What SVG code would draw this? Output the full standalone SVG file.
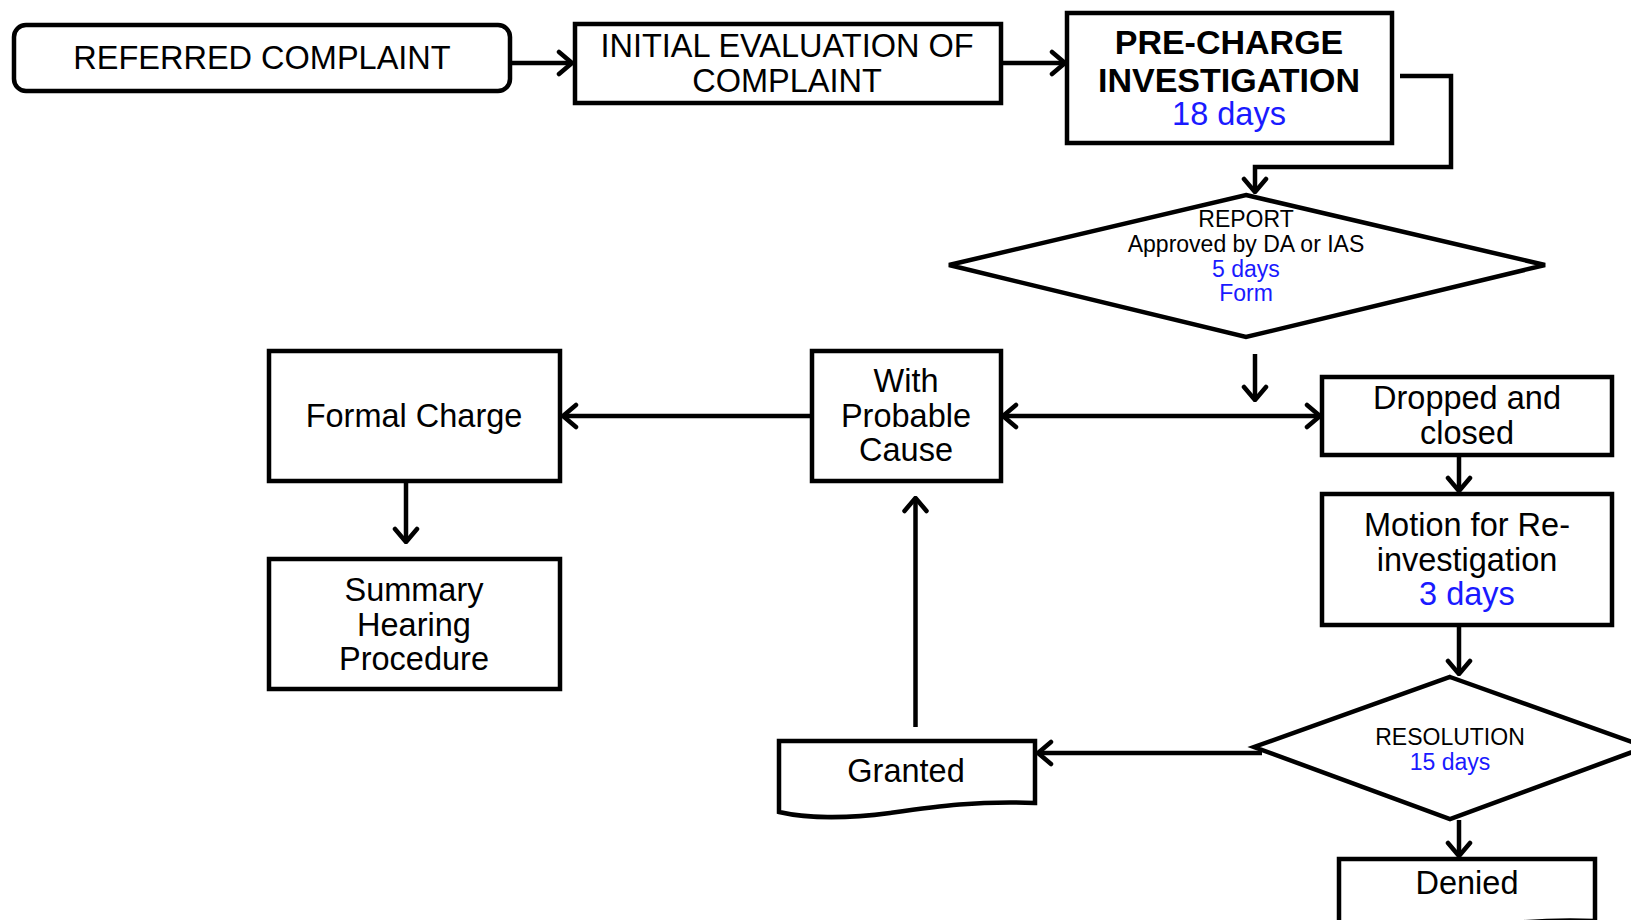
<svg xmlns="http://www.w3.org/2000/svg" width="1631" height="920" viewBox="0 0 1631 920">
<style>
.box{fill:#fff;stroke:#000;stroke-width:4.5}
.t{font-family:"Liberation Sans",Arial,sans-serif;font-size:32.5px;fill:#000;text-anchor:middle}
.b{font-weight:bold;font-size:34px}
.s{font-size:23px}
.blue{fill:#1a1aff}
.ln{fill:none;stroke:#000;stroke-width:4.5}
</style>
<defs>
<marker id="ah" viewBox="0 0 18 28" refX="16" refY="14" markerWidth="18" markerHeight="28" markerUnits="userSpaceOnUse" orient="auto-start-reverse">
<path d="M3,3 L16,14 L3,25" fill="none" stroke="#000" stroke-width="4.5" stroke-linecap="round" stroke-linejoin="round"/>
</marker>
</defs>
<rect width="1631" height="920" fill="#fff"/>
<g id="connectors">
<line class="ln" x1="510" y1="63" x2="572" y2="63" marker-end="url(#ah)"/>
<line class="ln" x1="1001" y1="63" x2="1065" y2="63" marker-end="url(#ah)"/>
<path class="ln" d="M1400,76 H1451 V167 H1255 V192" marker-end="url(#ah)"/>
<line class="ln" x1="1255" y1="354" x2="1255" y2="400" marker-end="url(#ah)"/>
<line class="ln" x1="1003" y1="416" x2="1320" y2="416" marker-start="url(#ah)" marker-end="url(#ah)"/>
<line class="ln" x1="812" y1="416" x2="563" y2="416" marker-end="url(#ah)"/>
<line class="ln" x1="406" y1="481" x2="406" y2="542" marker-end="url(#ah)"/>
<line class="ln" x1="1459" y1="455" x2="1459" y2="491" marker-end="url(#ah)"/>
<line class="ln" x1="1459" y1="625" x2="1459" y2="674" marker-end="url(#ah)"/>
<line class="ln" x1="1262" y1="753" x2="1038" y2="753" marker-end="url(#ah)"/>
<line class="ln" x1="915.5" y1="727" x2="915.5" y2="498" marker-end="url(#ah)"/>
<line class="ln" x1="1459" y1="820" x2="1459" y2="856" marker-end="url(#ah)"/>
</g>
<g id="referred">
<rect class="box" x="14" y="25" width="496" height="66" rx="12"/>
<text class="t" x="262" y="69">REFERRED COMPLAINT</text>
</g>
<g id="initial">
<rect class="box" x="575" y="24" width="426" height="79"/>
<text class="t" x="787" y="57">INITIAL EVALUATION OF</text>
<text class="t" x="787" y="92">COMPLAINT</text>
</g>
<g id="precharge">
<rect class="box" x="1067" y="13" width="325" height="130"/>
<text class="t b" x="1229" y="54">PRE-CHARGE</text>
<text class="t b" x="1229" y="91.5">INVESTIGATION</text>
<text class="t blue" x="1229" y="125">18 days</text>
</g>
<g id="report">
<polygon class="box" points="1246,195 1545,265 1246,337 949,265"/>
<text class="t s" x="1246" y="227">REPORT</text>
<text class="t s" x="1246" y="251.5">Approved by DA or IAS</text>
<text class="t s blue" x="1246" y="276.5">5 days</text>
<text class="t s blue" x="1246" y="301">Form</text>
</g>
<g id="dropped">
<rect class="box" x="1322" y="377" width="290" height="78"/>
<text class="t" x="1467" y="409">Dropped and</text>
<text class="t" x="1467" y="443.5">closed</text>
</g>
<g id="probable">
<rect class="box" x="812" y="351" width="189" height="130"/>
<text class="t" x="906" y="392">With</text>
<text class="t" x="906" y="426.5">Probable</text>
<text class="t" x="906" y="461">Cause</text>
</g>
<g id="formal">
<rect class="box" x="269" y="351" width="291" height="130"/>
<text class="t" x="414" y="427">Formal Charge</text>
</g>
<g id="summary">
<rect class="box" x="269" y="559" width="291" height="130"/>
<text class="t" x="414" y="601">Summary</text>
<text class="t" x="414" y="635.5">Hearing</text>
<text class="t" x="414" y="670">Procedure</text>
</g>
<g id="motion">
<rect class="box" x="1322" y="494" width="290" height="131"/>
<text class="t" x="1467" y="536">Motion for Re-</text>
<text class="t" x="1467" y="570.5">investigation</text>
<text class="t blue" x="1467" y="605">3 days</text>
</g>
<g id="resolution">
<polygon class="box" points="1450,677 1646,747 1450,819 1254,747"/>
<text class="t s" x="1450" y="745">RESOLUTION</text>
<text class="t s blue" x="1450" y="770">15 days</text>
</g>
<g id="granted">
<path class="box" d="M779,741 H1035 V803 C975,801 940,806 890,813 C845,819 805,818 779,812 Z"/>
<text class="t" x="906" y="782">Granted</text>
</g>
<g id="denied">
<path class="box" d="M1339,859 H1595 V921 C1535,919 1500,924 1450,931 C1405,937 1365,936 1339,930 Z"/>
<text class="t" x="1467" y="894">Denied</text>
</g>
</svg>
